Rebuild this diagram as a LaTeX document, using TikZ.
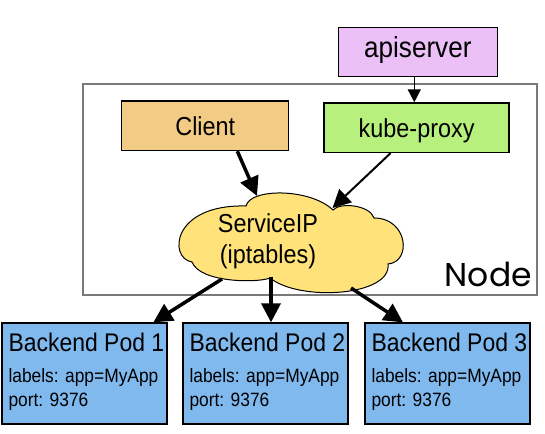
\documentclass[tikz,border=0pt]{standalone}
\usepackage{fontspec}
\setmainfont{Liberation Sans}[FakeStretch=0.9]
\newfontfamily\nodelabelfont{Poppins}
\usetikzlibrary{arrows.meta}

\definecolor{apicol}{HTML}{EBC0F7}
\definecolor{clientcol}{HTML}{F2CC84}
\definecolor{proxycol}{HTML}{B7F07D}
\definecolor{cloudcol}{HTML}{FFE27A}
\definecolor{podcol}{HTML}{7FB9EE}
\definecolor{framecol}{HTML}{7A7A7A}

\tikzset{
  box/.style={draw=black, line width=1.3pt, minimum height=49.5pt,
    text height=18.6pt, text depth=0pt, inner sep=0pt,
    font=\fontsize{26}{30}\selectfont},
  podbox/.style={draw=black, line width=1.3pt, fill=podcol,
    minimum width=165pt, minimum height=101pt, inner sep=0pt},
  podtitle/.style={anchor=base west, inner sep=0pt,
    font=\fontsize{25.5}{29}\selectfont},
  podline/.style={anchor=base west, inner sep=0pt,
    font=\fontsize{19.3}{23}\selectfont},
  cloudtext/.style={anchor=base, inner sep=0pt,
    font=\fontsize{26}{30}\selectfont},
  thickarrow/.style={line width=3.5pt, -{Triangle[length=19pt,width=19pt]}},
  midarrow/.style={line width=2pt, -{Triangle[length=18pt,width=18pt]}},
  thinarrow/.style={line width=1.5pt, -{Triangle[length=13pt,width=13pt]}},
}

\begin{document}
\begin{tikzpicture}[x=1pt,y=-1pt]
\useasboundingbox (0,0) rectangle (545,433);

% the node frame
\draw[framecol, line width=1.1pt] (83,84) rectangle (537,295);
\node[anchor=base east, inner sep=0pt, text=black,
  font=\nodelabelfont\fontsize{33}{37}\selectfont] (nodelabel) at (532,286) {Node};

% control plane and node components
\node[box, fill=apicol, minimum width=159pt, text height=11.5pt,
  font=\fontsize{29}{33}\selectfont] (api) at (417.8,52) {apiserver};
\node[box, fill=clientcol, minimum width=167pt] (client) at (205.3,125.8) {Client};
\node[box, fill=proxycol, minimum width=185pt] (proxy) at (416.6,127.7) {kube-proxy};

% service cloud
\draw[black, line width=1pt, fill=cloudcol]
  (246,206)
  .. controls (250,188) and (310,188) .. (333,210)
  .. controls (340,202) and (370,205) .. (374,218)
  .. controls (408,218) and (412,262) .. (388,264)
  .. controls (392,296) and (300,302) .. (270,278)
  .. controls (258,283) and (200,283) .. (192,262)
  .. controls (168,258) and (172,204) .. (246,206) -- cycle;
\node[cloudtext] (svcname) at (268,232.3) {ServiceIP};
\node[cloudtext] (svcmode) at (268,263) {(iptables)};

\coordinate (svcinclient) at (257,196);
\coordinate (svcinproxy) at (332.5,208);
\coordinate (svcout1) at (222,279);
\coordinate (svcout2) at (271,277);
\coordinate (svcout3) at (351,288);

% backend pods
\foreach \i/\x in {1/84.5, 2/265.5, 3/447.5} {
  \node[podbox] (pod\i) at (\x,373.5) {};
  \node[podtitle] (pod\i title) at ([shift={(7,28.7)}]pod\i.north west) {Backend Pod \i};
  \node[podline] (pod\i labels) at ([shift={(7,60.3)}]pod\i.north west) {labels: app=MyApp};
  \node[podline] (pod\i port) at ([shift={(7,84)}]pod\i.north west) {port: 9376};
}

% connectors
\draw[thinarrow] ([xshift=-3.5pt]api.south) -- ([xshift=-3.5pt]api.south |- proxy.north);
\draw[thickarrow] ([xshift=32pt]client.south) -- (svcinclient);
\draw[midarrow] ([xshift=-26pt]proxy.south) -- (svcinproxy);
\draw[thickarrow] (svcout1) -- ([xshift=-14.3pt]pod1.north east);
\draw[thickarrow] (svcout2) -- (svcout2 |- pod2.north);
\draw[thickarrow] (svcout3) -- ([xshift=-44.5pt]pod3.north);
\end{tikzpicture}
\end{document}
